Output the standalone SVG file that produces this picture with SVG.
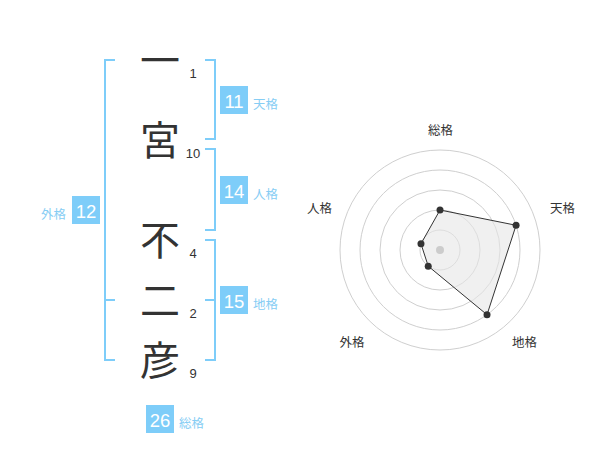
<svg xmlns="http://www.w3.org/2000/svg" width="600" height="470" viewBox="0 0 600 470">
<style>
.ch{font-family:"Noto Sans CJK JP","Noto Sans CJK SC",sans-serif;font-size:40px;fill:#333;text-anchor:middle}
.num{font-family:"Liberation Sans",Arial,sans-serif;font-size:13px;fill:#333;text-anchor:middle}
.box{fill:#7ecdf9}
.bn{font-family:"Liberation Sans",Arial,sans-serif;font-size:18.5px;fill:#fff;text-anchor:middle}
.lb{font-family:"Noto Sans CJK JP","Noto Sans CJK SC",sans-serif;font-size:12.5px;fill:#86cdf4}
.br{fill:none;stroke:#7ecdf9;stroke-width:2}
.ring{fill:none;stroke:#cfcfcf;stroke-width:1}
.rl{font-family:"Noto Sans CJK JP","Noto Sans CJK SC",sans-serif;font-size:12.5px;fill:#333;text-anchor:middle}
.pt{fill:#333}
</style>
<rect width="600" height="470" fill="#fff"/>
<g id="connectors">
<path class="br" d="M115,60 H105 V360 H115 M105,300 H115"/>
<path class="br" d="M205,60 H215 V139 H205"/>
<path class="br" d="M205,149 H215 V230 H205"/>
<path class="br" d="M205,240 H215 V360 H205 M205,300 H215"/>
</g>
<g id="char-1"><text class="ch" x="160" y="75">一</text><text class="num" x="193" y="77.5">1</text></g>
<g id="char-2"><text class="ch" x="160" y="155">宮</text><text class="num" x="193" y="157.5">10</text></g>
<g id="char-3"><text class="ch" x="160" y="255">不</text><text class="num" x="193" y="258">4</text></g>
<g id="char-4"><text class="ch" x="160" y="315">二</text><text class="num" x="193" y="318">2</text></g>
<g id="char-5"><text class="ch" x="160" y="375">彦</text><text class="num" x="193" y="378">9</text></g>
<g id="tenkaku"><rect class="box" x="220" y="86" width="28" height="28"/><text class="bn" x="234" y="107.5">11</text><text class="lb" x="253" y="109">天格</text></g>
<g id="jinkaku"><rect class="box" x="220" y="176" width="28" height="28"/><text class="bn" x="234" y="197.5">14</text><text class="lb" x="253" y="199">人格</text></g>
<g id="chikaku"><rect class="box" x="220" y="286" width="28" height="28"/><text class="bn" x="234" y="307.5">15</text><text class="lb" x="253" y="309">地格</text></g>
<g id="gaikaku"><rect class="box" x="72" y="196" width="28" height="28"/><text class="bn" x="86" y="217.5">12</text><text class="lb" x="66" y="219" text-anchor="end">外格</text></g>
<g id="sokaku"><rect class="box" x="146" y="405" width="28" height="28"/><text class="bn" x="160" y="426.5">26</text><text class="lb" x="179" y="428">総格</text></g>
<g id="radar">
<circle class="ring" cx="440" cy="250" r="20"/>
<circle class="ring" cx="440" cy="250" r="40"/>
<circle class="ring" cx="440" cy="250" r="60"/>
<circle class="ring" cx="440" cy="250" r="80"/>
<circle class="ring" cx="440" cy="250" r="100"/>
<polygon points="440,210 516.08,225.28 487.02,314.72 428.24,266.18 420.98,243.82" fill="#e6e6e6" fill-opacity="0.6" stroke="#333" stroke-width="1"/>
<circle cx="440" cy="250" r="4" fill="#cccccc"/>
<circle class="pt" cx="440" cy="210" r="3.5"/>
<circle class="pt" cx="516.08" cy="225.28" r="3.5"/>
<circle class="pt" cx="487.02" cy="314.72" r="3.5"/>
<circle class="pt" cx="428.24" cy="266.18" r="3.5"/>
<circle class="pt" cx="420.98" cy="243.82" r="3.5"/>
<text class="rl" x="440.5" y="135">総格</text>
<text class="rl" x="562.5" y="213">天格</text>
<text class="rl" x="524.5" y="347">地格</text>
<text class="rl" x="352" y="347">外格</text>
<text class="rl" x="319.5" y="213">人格</text>
</g>
</svg>
